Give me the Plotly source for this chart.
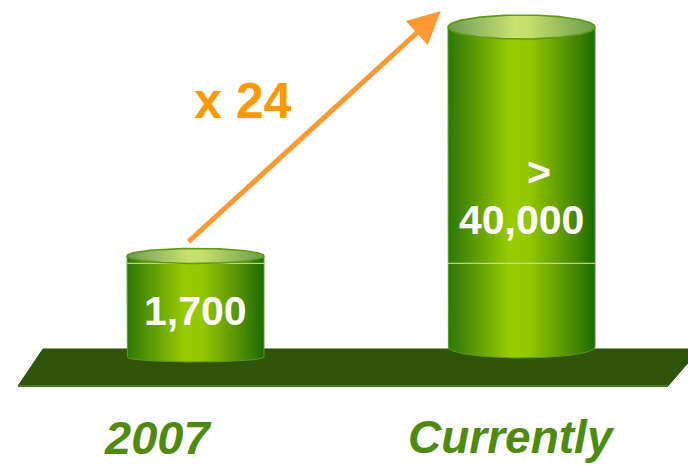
import numpy as np
import plotly.graph_objects as go

# ---- data ----
CATEGORIES = ["2007", "Currently"]
VALUES = [1700, 40000]
VALUE_PREFIXES = ["", ">"]

# ---- geometry / styling ----
X_RANGE = [-0.5997, 1.5107]
Y_RANGE_LOG = [1.978, 4.764]          # log10 units of the value axis
HALF_WIDTH = [0.210, 0.2255]          # cylinder half widths (x units)
BASE_LOG = [2.625, 2.685]             # where each cylinder stands on the floor
TOP_RY = [0.045, 0.072]               # top ellipse radius (decades)
BOTTOM_RY = [0.03, 0.066]             # bottom curve radius (decades)
LABEL_DROP = [0.33, 1.156]            # value label offset below each top (decades)

BODY_SCALE = [[0.0, "#2a7807"], [0.12, "#4a8e05"], [0.42, "#99cb00"],
              [0.55, "#95c700"], [0.85, "#4a8905"], [1.0, "#1b6b00"]]
TOP_SCALE = [[0.0, "#6b9a55"], [0.45, "#c8e16f"], [0.55, "#c4df6c"], [1.0, "#6b9b4c"]]
FONT = "Liberation Sans, Arial, sans-serif"
LABEL_GREEN = "#4e8a0e"
ORANGE = "#ff9900"
FLOOR = "#2f5309"
W, H = 688, 465

fig = go.Figure()

for i, v in enumerate(VALUES):
    cx, hw = i, HALF_WIDTH[i]
    top = np.log10(v)
    base = BASE_LOG[i]

    # side wall with a curved lower rim
    t = np.linspace(0, np.pi, 60)
    bx = np.concatenate([[cx - hw], cx - hw * np.cos(t), [cx + hw, cx - hw]])
    by = np.concatenate([[top], base - BOTTOM_RY[i] * np.sin(t), [top, top]])
    fig.add_trace(go.Scatter(
        x=bx, y=10 ** by, mode="lines", fill="toself",
        line=dict(color="#5c9a1a", width=1),
        fillgradient=dict(type="horizontal", colorscale=BODY_SCALE),
        hoverinfo="skip", showlegend=False))

    # faint level line marking the 2007 figure
    lvl = np.log10(VALUES[0]) - TOP_RY[0]
    fig.add_trace(go.Scatter(
        x=[cx - hw, cx + hw], y=[10 ** lvl] * 2, mode="lines",
        line=dict(color="rgba(200,230,150,0.85)", width=1.2),
        hoverinfo="skip", showlegend=False))

    # open top ellipse
    te = np.linspace(0, 2 * np.pi, 140)
    fig.add_trace(go.Scatter(
        x=cx + hw * np.cos(te), y=10 ** (top + TOP_RY[i] * np.sin(te)),
        mode="lines", fill="toself",
        line=dict(color="#5e9a14", width=1.6),
        fillgradient=dict(type="horizontal", colorscale=TOP_SCALE),
        hoverinfo="skip", showlegend=False))

    # value label
    fig.add_annotation(
        x=cx, y=top - LABEL_DROP[i], xref="x", yref="y",
        text=f"{v:,}", showarrow=False,
        font=dict(family=FONT, size=41, color="white", weight="bold"))
    if VALUE_PREFIXES[i]:
        fig.add_annotation(
            x=cx + 0.054, y=top - 0.869, xref="x", yref="y",
            text=VALUE_PREFIXES[i], showarrow=False,
            font=dict(family=FONT, size=41, color="white", weight="bold"))

# growth arrow from the first cylinder to the second
ratio = round(VALUES[1] / VALUES[0])
fig.add_annotation(
    x=1 - HALF_WIDTH[1] - 0.022, y=np.log10(VALUES[1]) + 0.096,
    ax=-0.026, ay=np.log10(VALUES[0]) + 0.078,
    xref="x", yref="y", axref="x", ayref="y",
    text="", showarrow=True, arrowhead=2, arrowsize=1.3,
    arrowwidth=5, arrowcolor="#ff9a33", standoff=0, startstandoff=0)
fig.add_annotation(
    x=0.146, y=4.159, xref="x", yref="y", text=f"x {ratio}", showarrow=False,
    font=dict(family=FONT, size=50, color=ORANGE, weight="bold"))

# category labels under the floor
cat_shift = [-0.118, -0.032]
for i, c in enumerate(CATEGORIES):
    fig.add_annotation(
        x=i + cat_shift[i], y=1 - 437 / H, xref="x", yref="paper",
        text=c, showarrow=False, yanchor="middle",
        font=dict(family=FONT, size=[47, 46][i], color=LABEL_GREEN,
                  weight="bold", style="italic"))

# floor slab
def px(x, y):
    return x / W, 1 - y / H

pts = [px(18, 386), px(43, 349), px(700, 349), px(668, 386)]
path = "M " + " L ".join(f"{a:.4f},{b:.4f}" for a, b in pts) + " Z"
fig.add_shape(type="path", path=path, xref="paper", yref="paper",
              fillcolor=FLOOR, line=dict(color=FLOOR, width=1), layer="below")
(a0, b0), (a1, b1) = px(18, 386), px(668, 386)
fig.add_shape(type="line", x0=a0, y0=b0, x1=a1, y1=b1, xref="paper", yref="paper",
              line=dict(color="#4f7a24", width=2), layer="below")

fig.update_layout(
    width=W, height=H, margin=dict(l=0, r=0, t=0, b=0),
    paper_bgcolor="white", plot_bgcolor="white", showlegend=False,
    xaxis=dict(range=X_RANGE, visible=False, fixedrange=True),
    yaxis=dict(type="log", range=Y_RANGE_LOG, visible=False, fixedrange=True),
)

fig.write_html("out.html", config={"displayModeBar": False})
